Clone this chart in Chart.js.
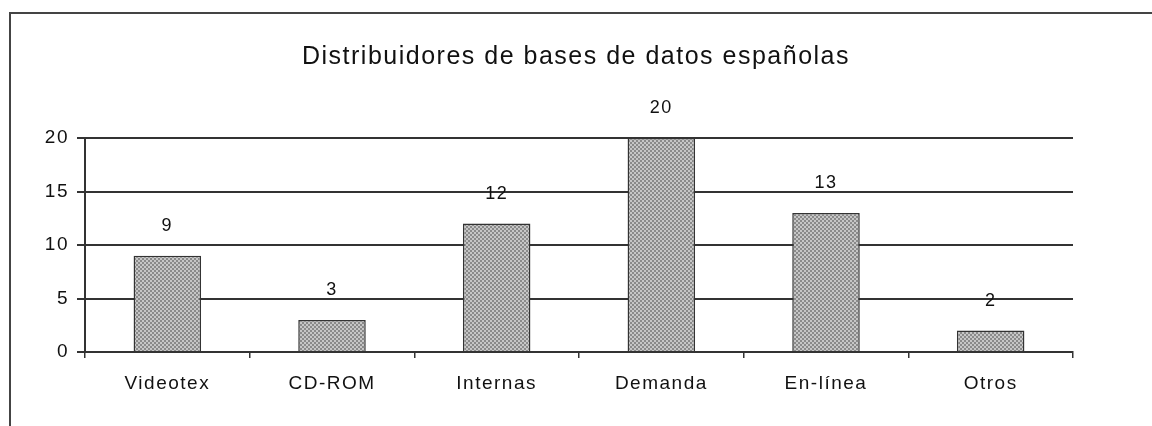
<!DOCTYPE html>
<html>
<head>
<meta charset="utf-8">
<script src="https://cdn.jsdelivr.net/npm/chart.js@4.4.1/dist/chart.umd.min.js"></script>
<style>
  html, body { margin: 0; padding: 0; background: #fff; }
  #wrap { width: 1152px; height: 426px; }
</style>
</head>
<body>
<div id="wrap"><canvas id="grafico" width="1152" height="426"></canvas></div>
<script>
// datos del grafico
var categorias = ["Videotex", "CD-ROM", "Internas", "Demanda", "En-línea", "Otros"];
var valores = [9, 3, 12, 20, 13, 2];
var ticksY = [0, 5, 10, 15, 20];
var titulo = "Distribuidores de bases de datos españolas";

var fuente = "'Liberation Sans', Arial, sans-serif";

// trama gris punteada de las barras
function crearTrama(ctx) {
    var c = document.createElement("canvas");
    c.width = 4;
    c.height = 4;
    var p = c.getContext("2d");
    p.fillStyle = "#c6c6c6";
    p.fillRect(0, 0, 4, 4);
    p.fillStyle = "#8a8a8a";
    p.fillRect(0, 0, 2, 2);
    p.fillRect(2, 2, 2, 2);
    return ctx.createPattern(c, "repeat");
}

// marco de la imagen (linea arriba y a la izquierda) + espaciado de letras
var marco = {
    id: "marco",
    beforeDraw: function (chart) {
        var ctx = chart.ctx;
        ctx.letterSpacing = "1.5px";
        ctx.save();
        ctx.strokeStyle = "#444";
        ctx.lineWidth = 2;
        ctx.beginPath();
        ctx.moveTo(10, 426);
        ctx.lineTo(10, 13);
        ctx.lineTo(1152, 13);
        ctx.stroke();
        ctx.restore();
    }
};

// valores encima de cada barra
var etiquetas = {
    id: "etiquetas",
    afterDatasetsDraw: function (chart) {
        var ctx = chart.ctx;
        var meta = chart.getDatasetMeta(0);
        ctx.save();
        ctx.font = "18px " + fuente;
        ctx.fillStyle = "#111";
        ctx.textAlign = "center";
        ctx.textBaseline = "middle";
        meta.data.forEach(function (barra, i) {
            ctx.fillText(String(valores[i]), barra.x, barra.y - 30);
        });
        ctx.restore();
    }
};

var ctx = document.getElementById("grafico").getContext("2d");

new Chart(ctx, {
    type: "bar",
    data: {
        labels: categorias,
        datasets: [{
            data: valores,
            backgroundColor: crearTrama(ctx),
            borderColor: "#333",
            borderWidth: 1.5,
            categoryPercentage: 1,
            barPercentage: 0.41
        }]
    },
    plugins: [marco, etiquetas],
    options: {
        responsive: false,
        animation: false,
        events: [],
        layout: { padding: 0 },
        plugins: {
            legend: { display: false },
            tooltip: { enabled: false },
            title: {
                display: true,
                text: titulo,
                color: "#111",
                font: { family: fuente, size: 25, weight: "normal" },
                padding: { top: 42, bottom: 66 }
            }
        },
        scales: {
            x: {
                offset: true,
                grid: {
                    offset: true,
                    drawOnChartArea: false,
                    color: "#333",
                    lineWidth: 1.5,
                    tickLength: 6
                },
                border: { color: "#333", width: 2 },
                ticks: {
                    color: "#111",
                    padding: 14,
                    font: { family: fuente, size: 19 }
                },
                afterFit: function (scale) { scale.height = 74; }
            },
            y: {
                min: 0,
                max: 20,
                afterBuildTicks: function (scale) {
                    scale.ticks = ticksY.map(function (v) { return { value: v }; });
                },
                grid: {
                    color: "#333",
                    lineWidth: 2,
                    tickLength: 8
                },
                border: { color: "#333", width: 2 },
                ticks: {
                    color: "#111",
                    padding: 8,
                    font: { family: fuente, size: 19 }
                },
                afterFit: function (scale) { scale.width = 85; }
            },
            // eje vacio a la derecha, solo reserva el margen
            derecha: {
                position: "right",
                min: 0,
                max: 20,
                grid: { display: false },
                border: { display: false },
                ticks: { display: false },
                afterFit: function (scale) { scale.width = 79; }
            }
        }
    }
});
</script>
</body>
</html>
